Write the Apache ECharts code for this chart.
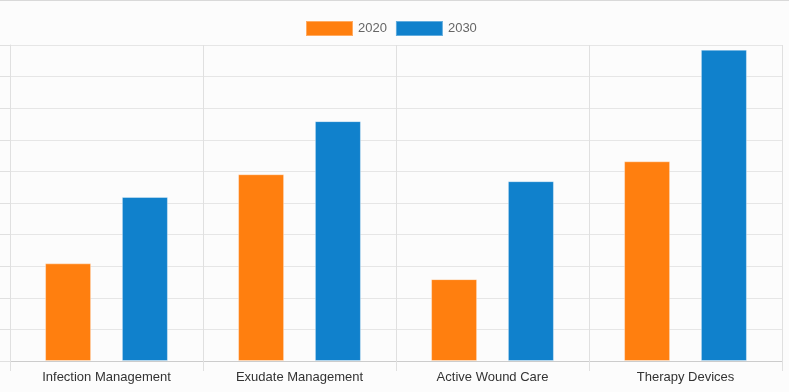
<!DOCTYPE html>
<html>
<head>
<meta charset="utf-8">
<script src="https://cdn.jsdelivr.net/npm/echarts@6/dist/echarts.min.js"></script>
<style>
html,body{margin:0;padding:0;background:#fcfcfc;}
#wrap{width:789px;height:392px;box-sizing:border-box;border-top:1px solid #d9d9d9;}
#chart{width:789px;height:391px;}
</style>
</head>
<body>
<div id="wrap"><div id="chart"></div></div>
<script>
var categories = ['Infection Management', 'Exudate Management', 'Active Wound Care', 'Therapy Devices'];
var seriesNames = ['2020', '2030'];
var values2020 = [3.09, 5.91, 2.59, 6.32];
var values2030 = [5.19, 7.59, 5.69, 9.85];

var chart = echarts.init(document.getElementById('chart'), null, {renderer: 'canvas'});
chart.setOption({
  backgroundColor: '#fcfcfc',
  animation: false,
  textStyle: {fontFamily: 'Arial, "Liberation Sans", sans-serif'},
  legend: {
    top: 14,
    left: 300,
    icon: 'rect',
    itemWidth: 47,
    itemHeight: 15,
    itemGap: 8,
    textStyle: {fontSize: 13, color: '#666'},
    data: seriesNames
  },
  grid: {left: 10, right: 7, top: 44, bottom: 31, containLabel: false},
  xAxis: {
    type: 'category',
    data: categories,
    boundaryGap: true,
    axisLine: {show: true, lineStyle: {color: '#cccccc', width: 1}},
    axisTick: {show: true, length: 10, alignWithLabel: false, lineStyle: {color: '#e0e0e0'}},
    splitLine: {show: true, lineStyle: {color: '#e0e0e0'}},
    axisLabel: {fontSize: 13, color: '#333', margin: 10}
  },
  yAxis: {
    type: 'value',
    min: 0,
    max: 10,
    interval: 1,
    axisLine: {show: true, lineStyle: {color: '#e0e0e0', width: 1}},
    axisTick: {show: true, length: 10, lineStyle: {color: '#e0e0e0'}},
    axisLabel: {show: false},
    splitLine: {show: true, lineStyle: {color: '#e6e6e6'}}
  },
  series: [
    {
      name: seriesNames[0], type: 'bar', data: values2020,
      barWidth: 46, barGap: '67%',
      itemStyle: {color: '#ff7f0f', borderColor: 'rgba(255,255,255,0.35)', borderWidth: 1}
    },
    {
      name: seriesNames[1], type: 'bar', data: values2030,
      barWidth: 46,
      itemStyle: {color: '#1081cc', borderColor: 'rgba(255,255,255,0.35)', borderWidth: 1}
    }
  ]
});
</script>
</body>
</html>
